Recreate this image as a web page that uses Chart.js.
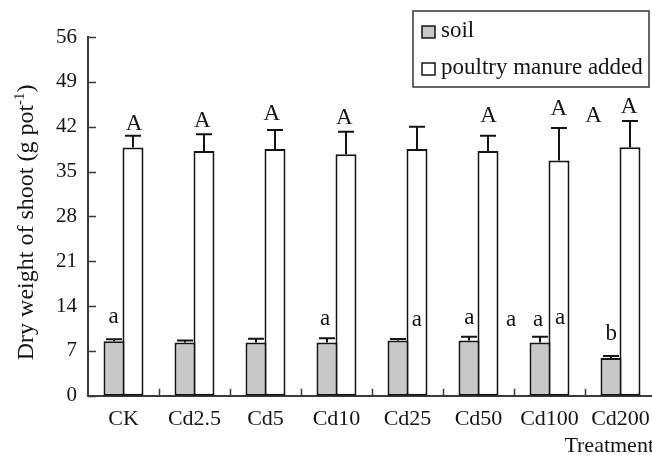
<!DOCTYPE html>
<html>
<head>
<meta charset="utf-8">
<script src="https://cdn.jsdelivr.net/npm/chart.js@4.4.0/dist/chart.umd.min.js"></script>
<style>
html, body { margin: 0; padding: 0; overflow: hidden; background: #fff; }
#wrap { width: 670px; height: 455px; }
</style>
</head>
<body>
<div id="wrap"><canvas id="barChart"></canvas></div>
<script>
const treatments = ['CK', 'Cd2.5', 'Cd5', 'Cd10', 'Cd25', 'Cd50', 'Cd100', 'Cd200'];
const soilMeans = [8.5, 8.3, 8.3, 8.3, 8.6, 8.6, 8.3, 5.9];
const soilErrors = [0.3, 0.3, 0.6, 0.65, 0.25, 0.6, 0.9, 0.3];
const manureMeans = [38.75, 38.2, 38.5, 37.7, 38.5, 38.2, 36.7, 38.8];
const manureErrors = [1.85, 2.6, 3.0, 3.5, 3.5, 2.4, 5.1, 4.1];
const yTicks = [0, 7, 14, 21, 28, 35, 42, 49, 56];

// significance letters: category index (fractional) and baseline value
const letterText = ['a', 'A', 'A', 'A', 'a', 'A', 'a', 'a', 'A', 'a', 'a', 'a', 'A', 'A', 'b', 'A'];
const letterAt = [-0.14, 0.15, 1.11, 2.09, 2.84, 3.11, 4.13, 4.87, 5.14, 5.46, 5.84, 6.15, 6.13, 6.62, 6.87, 7.12];
const letterValue = [11.3, 41.5, 42.0, 43.0, 11.05, 42.45, 10.9, 11.2, 42.8, 10.9, 10.9, 11.2, 43.85, 42.8, 8.7, 44.1];

const serif = "'Liberation Serif', 'Times New Roman', serif";
const ink = '#141414';

const figureDecor = {
    id: 'figureDecor',
    afterDatasetsDraw(chart) {
        const { ctx, chartArea, scales: { x, y } } = chart;
        ctx.save();

        // error bars (upper half only)
        ctx.strokeStyle = ink;
        ctx.lineWidth = 2;
        chart.data.datasets.forEach((ds, i) => {
            chart.getDatasetMeta(i).data.forEach((bar, j) => {
                const top = y.getPixelForValue(ds.data[j]);
                const end = y.getPixelForValue(ds.data[j] + ds.errors[j]);
                ctx.beginPath();
                ctx.moveTo(bar.x, top);
                ctx.lineTo(bar.x, end);
                ctx.moveTo(bar.x - 8, end);
                ctx.lineTo(bar.x + 8, end);
                ctx.stroke();
            });
        });

        // inward ticks
        ctx.strokeStyle = '#3a3a3a';
        ctx.lineWidth = 1.5;
        ctx.beginPath();
        y.ticks.forEach(t => {
            const py = Math.round(y.getPixelForValue(t.value)) + 0.5;
            ctx.moveTo(chartArea.left, py);
            ctx.lineTo(chartArea.left + 8, py);
        });
        for (let i = 0; i < treatments.length - 1; i++) {
            const px = Math.round((x.getPixelForValue(i) + x.getPixelForValue(i + 1)) / 2) + 0.5;
            ctx.moveTo(px, chartArea.bottom);
            ctx.lineTo(px, chartArea.bottom - 7);
        }
        ctx.stroke();

        // letters
        ctx.fillStyle = ink;
        ctx.font = '23px ' + serif;
        ctx.textAlign = 'center';
        ctx.textBaseline = 'alphabetic';
        letterText.forEach((t, k) => {
            ctx.fillText(t, x.getPixelForValue(letterAt[k]), y.getPixelForValue(letterValue[k]));
        });

        // y axis title with superscript
        const midY = (chartArea.top + chartArea.bottom) / 2 + 6;
        ctx.translate(33, midY);
        ctx.rotate(-Math.PI / 2);
        ctx.textAlign = 'left';
        const big = '24px ' + serif, small = '15px ' + serif;
        const p1 = 'Dry weight of shoot (g pot', p2 = '-1', p3 = ')';
        ctx.font = big; const w1 = ctx.measureText(p1).width, w3 = ctx.measureText(p3).width;
        ctx.font = small; const w2 = ctx.measureText(p2).width;
        let sx = -(w1 + w2 + w3) / 2;
        ctx.font = big; ctx.fillText(p1, sx, 0); sx += w1;
        ctx.font = small; ctx.fillText(p2, sx, -9); sx += w2;
        ctx.font = big; ctx.fillText(p3, sx, 0);
        ctx.setTransform(1, 0, 0, 1, 0, 0);

        // x axis title
        ctx.font = '22px ' + serif;
        ctx.textAlign = 'right';
        ctx.fillText('Treatment', chartArea.right - 2, 452);

        // legend box
        ctx.strokeStyle = '#333';
        ctx.lineWidth = 1.5;
        ctx.strokeRect(413, 11, 236, 76);
        ctx.font = '23px ' + serif;
        ctx.textAlign = 'left';
        chart.data.datasets.forEach((ds, i) => {
            const cy = 32 + i * 37;
            ctx.fillStyle = ds.backgroundColor;
            ctx.fillRect(422, cy - 6, 13, 12);
            ctx.strokeStyle = ink;
            ctx.strokeRect(422, cy - 6, 13, 12);
            ctx.fillStyle = ink;
            ctx.fillText(ds.label, 441, cy + 5);
        });

        ctx.restore();
    }
};

new Chart(document.getElementById('barChart'), {
    type: 'bar',
    data: {
        labels: treatments,
        datasets: [{
            label: 'soil',
            data: soilMeans,
            errors: soilErrors,
            backgroundColor: '#c8c8c8',
            borderColor: ink,
            borderWidth: 2,
            borderSkipped: false
        }, {
            label: 'poultry manure added',
            data: manureMeans,
            errors: manureErrors,
            backgroundColor: '#ffffff',
            borderColor: ink,
            borderWidth: 2,
            borderSkipped: false
        }]
    },
    options: {
        responsive: true,
        maintainAspectRatio: false,
        animation: false,
        categoryPercentage: 0.535,
        barPercentage: 1.105,
        layout: { padding: { top: 37, right: 14, left: 0, bottom: 0 } },
        plugins: {
            legend: { display: false },
            tooltip: { enabled: false }
        },
        scales: {
            x: {
                offset: true,
                grid: { display: false, drawTicks: false },
                border: { display: true, color: '#3a3a3a', width: 2 },
                ticks: { padding: 10, maxRotation: 0, autoSkip: false, color: ink, font: { family: serif, size: 22 } },
                afterFit: s => { s.height = 59.3; }
            },
            y: {
                min: 0,
                max: 56,
                afterBuildTicks: s => { s.ticks = yTicks.map(v => ({ value: v })); },
                grid: { display: false, drawTicks: false },
                border: { display: true, color: '#3a3a3a', width: 2 },
                ticks: { padding: 11, color: ink, font: { family: serif, size: 21 } },
                afterFit: s => { s.width = 88; }
            }
        }
    },
    plugins: [figureDecor]
});
</script>
</body>
</html>
